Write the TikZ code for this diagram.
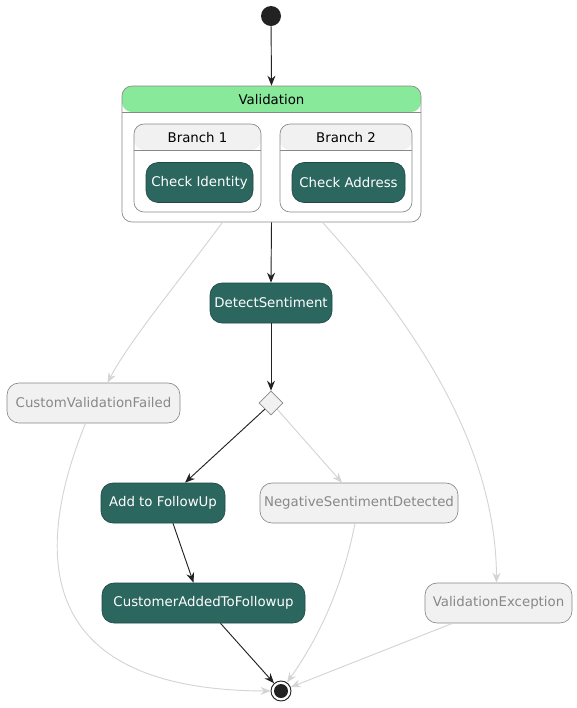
\documentclass[tikz,border=0pt]{standalone}
\usepackage{fontspec}
\setmainfont{DejaVu Sans}
\usetikzlibrary{arrows.meta,shapes.geometric,calc}
\definecolor{teal}{RGB}{43,103,95}
\definecolor{hdrgreen}{RGB}{136,233,155}
\definecolor{paleg}{RGB}{241,241,241}
\definecolor{bordg}{RGB}{136,136,136}
\definecolor{edgeg}{RGB}{212,212,212}
\definecolor{ink}{RGB}{34,34,34}
\begin{document}
\begin{tikzpicture}[x=0.75pt,y=-0.75pt,
  font=\fontsize{10}{12}\selectfont,
  act/.style={draw=teal!70!black,fill=teal,text=white,rounded corners=9pt,
    minimum height=30pt,inner sep=0pt,line width=0.5pt},
  pale/.style={draw=bordg,fill=paleg,text=bordg,rounded corners=9pt,
    minimum height=30pt,inner sep=0pt,line width=0.5pt},
  grp/.style={draw=bordg,fill=white,rounded corners=7.5pt,inner sep=0pt,line width=0.5pt},
  main/.style={draw=ink,line width=0.7pt,-{Stealth[length=7.5pt,width=6pt,inset=2.5pt]}},
  faint/.style={draw=edgeg,line width=0.7pt,-{Stealth[length=7.5pt,width=6pt,inset=2.5pt,fill=edgeg]}}]
\useasboundingbox (0,0) rectangle (577,708);
% initial state
\node[circle,fill=ink,minimum size=15pt,inner sep=0pt] (start) at (271,16) {};
% composite state with two concurrent branches
\node[grp,minimum width=224.25pt,minimum height=102pt,
  path picture={\fill[hdrgreen] (path picture bounding box.north west) rectangle ([yshift=-19.5pt]path picture bounding box.north east);
    \draw[bordg,line width=0.5pt] ([yshift=-19.5pt]path picture bounding box.north west) -- ([yshift=-19.5pt]path picture bounding box.north east);}]
  (valid) at (271.5,154) {};
\node[anchor=center] (validt) at (271.5,99.5) {Validation};
\node[grp,minimum width=95.25pt,minimum height=66pt,
  path picture={\fill[paleg] (path picture bounding box.north west) rectangle ([yshift=-19.5pt]path picture bounding box.north east);
    \draw[bordg,line width=0.5pt] ([yshift=-19.5pt]path picture bounding box.north west) -- ([yshift=-19.5pt]path picture bounding box.north east);}]
  (br1) at (197.5,168) {};
\node (br1t) at (197.5,137.5) {Branch 1};
\node[grp,minimum width=99pt,minimum height=66pt,
  path picture={\fill[paleg] (path picture bounding box.north west) rectangle ([yshift=-19.5pt]path picture bounding box.north east);
    \draw[bordg,line width=0.5pt] ([yshift=-19.5pt]path picture bounding box.north west) -- ([yshift=-19.5pt]path picture bounding box.north east);}]
  (br2) at (346,168) {};
\node (br2t) at (346,137.5) {Branch 2};
\node[act,minimum width=80.25pt] (chkid) at (199.5,182.5) {Check Identity};
\node[act,minimum width=84.75pt] (chkad) at (348.5,182.5) {Check Address};
% activities
\node[act,minimum width=91.5pt] (detect) at (271,303) {DetectSentiment};
\node[diamond,draw=bordg,fill=paleg,minimum size=18pt,inner sep=0pt,line width=0.5pt] (choice) at (271,403) {};
\node[pale,minimum width=129.75pt] (cvf) at (93.5,403) {CustomValidationFailed};
\node[act,minimum width=93pt] (follow) at (163,503) {Add to FollowUp};
\node[pale,minimum width=148.5pt] (neg) at (359,503) {NegativeSentimentDetected};
\node[act,minimum width=152.25pt] (added) at (203.5,603) {CustomerAddedToFollowup};
\node[pale,minimum width=110.25pt] (vexc) at (498.5,603) {ValidationException};
% final state
\node[circle,draw=ink,fill=white,line width=0.7pt,minimum size=15pt,inner sep=0pt] (stop) at (281,691) {};
\node[circle,fill=ink,minimum size=10.5pt,inner sep=0pt] (stopdot) at (stop) {};
% transitions
\draw[main] (start) -- (valid.north);
\draw[main] (valid.south) -- (detect.north);
\draw[main] (detect.south) -- (choice.north);
\draw[main] (choice.south west) -- ($(follow.north)+(22,0)$);
\draw[main] ($(follow.south)+(10,0)$) -- ($(added.north)+(-10,0)$);
\draw[main] ($(added.south)+(17,0)$) -- (stop);
\draw[faint] ($(valid.south)+(-49,0)$) .. controls (180,280) and (130,340) .. ($(cvf.north)+(14,0)$);
\draw[faint] ($(valid.south)+(51,0)$) .. controls (420,330) and (496,450) .. ($(vexc.north)+(-2,0)$);
\draw[faint] (choice.south east) -- ($(neg.north)+(-17,0)$);
\draw[faint] ($(cvf.south)+(-8,0)$) .. controls (30,560) and (40,690) .. (stop.west);
\draw[faint] ($(neg.south)+(-4,0)$) .. controls (340,600) and (310,650) .. (stop);
\draw[faint] ($(vexc.south)+(-46,0)$) -- (stop);
\end{tikzpicture}
\end{document}
